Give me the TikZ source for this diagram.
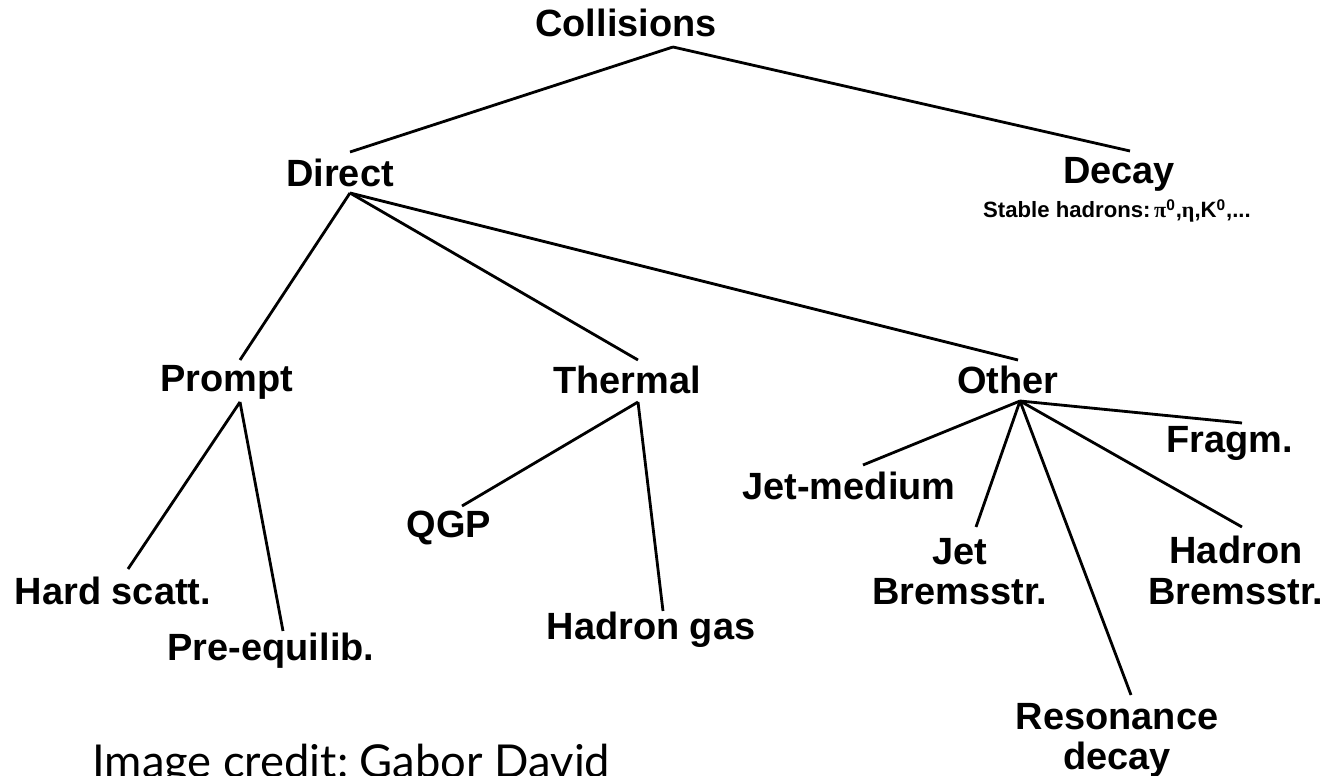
\documentclass[tikz,border=0pt]{standalone}
\usepackage{fontspec}
\setmainfont{Liberation Sans}
\newfontfamily\greekfont{Liberation Serif}
\newfontfamily\creditfont{Lato}
\usetikzlibrary{calc}

\tikzset{
    lbl/.style={font=\fontsize{21.6pt}{23pt}\selectfont\bfseries, inner sep=0pt, anchor=base},
    lbl2/.style={lbl, align=center, anchor=north},
    edge/.style={line width=1.6pt}
}

\begin{document}
\begin{tikzpicture}[x=0.02cm, y=-0.02cm]
    \useasboundingbox (0,0) rectangle (1326,776);

    \node[lbl] (coll) at (626, 37) {Collisions};
    \node[lbl] (direct) at (340, 187) {Direct};
    \node[lbl] (decay) at (1119, 184) {Decay};
    \node[inner sep=0pt, anchor=base, font=\fontsize{12.6pt}{14pt}\selectfont\bfseries] (stable) at (1117, 218)
        {Stable hadrons:\,{\greekfont π}\textsuperscript{0},{\greekfont η},K\textsuperscript{0},...};

    \node[lbl] (prompt) at (227, 392) {Prompt};
    \node[lbl] (thermal) at (627, 394) {Thermal};
    \node[lbl] (other) at (1008, 394) {Other};

    \node[lbl] (hard) at (113, 605) {Hard scatt.};
    \node[lbl] (pre) at (271, 661) {Pre-equilib.};
    \node[lbl] (qgp) at (449, 538) {QGP};
    \node[lbl] (hgas) at (651, 640) {Hadron gas};

    \node[lbl] (jetmed) at (849, 500) {Jet-medium};
    \node[lbl] (fragm) at (1230, 453) {Fragm.};
    \node[lbl2] (jetb) at (960, 538) {Jet\\Bremsstr.};
    \node[lbl2] (hadb) at (1236, 536) {Hadron\\Bremsstr.};
    \node[lbl2] (reson) at (1117, 703) {Resonance\\decay};

    \draw[edge] ($(coll.base)+(47,10)$) -- ($(direct.base)+(10,-35)$);
    \draw[edge] ($(coll.base)+(47,10)$) -- ($(decay.base)+(11,-33)$);

    \draw[edge] ($(direct.base)+(10,6)$) -- ($(prompt.base)+(13,-32)$);
    \draw[edge] ($(direct.base)+(10,6)$) -- ($(thermal.base)+(11,-34)$);
    \draw[edge] ($(direct.base)+(10,6)$) -- ($(other.base)+(10,-34)$);

    \draw[edge] ($(prompt.base)+(13,10)$) -- ($(hard.base)+(15,-36)$);
    \draw[edge] ($(prompt.base)+(13,10)$) -- ($(pre.base)+(12,-30)$);

    \draw[edge] ($(thermal.base)+(11,8)$) -- ($(qgp.base)+(13,-32)$);
    \draw[edge] ($(thermal.base)+(11,8)$) -- ($(hgas.base)+(12,-29)$);

    % five branches out of Other
    \draw[edge] ($(other.base)+(12,7)$) -- ($(jetmed.base)+(14,-35)$);
    \draw[edge] ($(other.base)+(12,7)$) -- ($(jetb.north)+(16,-11)$);
    \draw[edge] ($(other.base)+(12,7)$) -- ($(reson.north)+(14,-8)$);
    \draw[edge] ($(other.base)+(12,7)$) -- ($(fragm.base)+(12,-30)$);
    \draw[edge] ($(other.base)+(12,7)$) -- ($(hadb.north)+(6,-9)$);

    \node[inner sep=0pt, anchor=base west, font=\creditfont\fontsize{25.8pt}{28pt}\selectfont] (credit) at (92, 777)
        {\frenchspacing Image credit: Gabor David};
\end{tikzpicture}
\end{document}
